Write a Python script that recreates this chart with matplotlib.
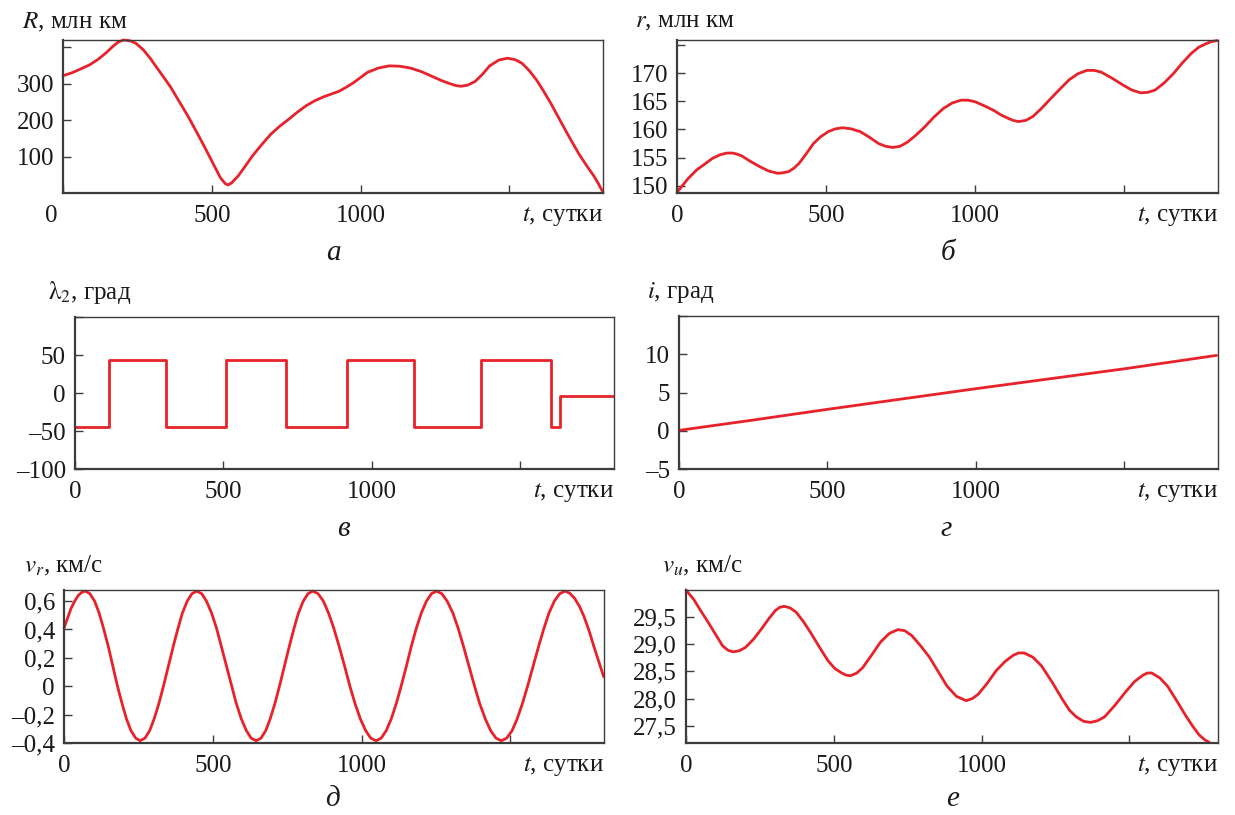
import matplotlib
matplotlib.use("Agg")
import matplotlib.pyplot as plt
from matplotlib.transforms import ScaledTranslation

plt.rcParams['font.family'] = ['Liberation Serif', 'DejaVu Serif']
plt.rcParams['mathtext.fontset'] = 'stix'

# ---------------- data ----------------
# a) R(t), mln km
R_t = [0, 30, 58, 90, 118, 145, 167, 185, 203, 225, 245, 270, 293, 325, 360,
       390, 420, 450, 480, 505, 529, 545, 555, 567, 589, 612, 637, 668, 698,
       728, 758, 788, 818, 848, 879, 903, 927, 951, 975, 1000, 1023, 1060,
       1096, 1132, 1168, 1205, 1241, 1271, 1301, 1320, 1337, 1360, 1385, 1410,
       1434, 1465, 1494, 1520, 1543, 1567, 1591, 1615, 1639, 1663, 1687, 1711,
       1735, 1760, 1784, 1800, 1815]
R_v = [322, 330, 340, 352, 367, 385, 402, 414, 420, 418, 411, 393, 370, 333,
       293, 252, 211, 166, 120, 80, 42, 26, 22, 28, 47, 73, 102, 133, 161,
       183, 202, 222, 240, 254, 265, 272, 279, 290, 302, 317, 331, 343,
       349, 348, 343, 333, 320, 309, 300, 295, 293, 296, 306, 326,
       349, 365, 370, 366, 356, 336, 311, 280, 247, 211, 175, 140,
       106, 75, 47, 25, 2]

# b) r(t), mln km
r_t = [0, 18, 36, 66, 97, 120, 145, 167, 187, 202, 217, 247, 277, 308, 338,
       356, 374, 392, 410, 434, 458, 482, 507, 531, 555, 585, 615, 646, 676,
       700, 724, 748, 772, 802, 832, 862, 893, 923, 953, 977, 1001, 1031,
       1062, 1086, 1110, 1128, 1146, 1170, 1194, 1224, 1254, 1285, 1315, 1345,
       1375, 1399, 1423, 1460, 1496, 1526, 1556, 1580, 1604, 1635, 1665, 1695,
       1725, 1750, 1773, 1792, 1812]
r_v = [148.8, 150.0, 151.2, 152.8, 154.0, 154.9, 155.5, 155.8, 155.8, 155.6,
       155.3, 154.3, 153.4, 152.6, 152.2, 152.3, 152.5, 153.1, 154.0, 155.7,
       157.5, 158.7, 159.6, 160.1, 160.3, 160.1, 159.6, 158.6, 157.5, 157.0,
       156.8, 157.0, 157.7, 159.0, 160.5, 162.2, 163.7, 164.7, 165.2, 165.2,
       164.9, 164.2, 163.4, 162.6, 162.0, 161.6, 161.4, 161.6, 162.3, 163.8,
       165.5, 167.2, 168.8, 169.9, 170.5, 170.5, 170.2, 169.1, 167.9, 167.0,
       166.5, 166.6, 167.0, 168.3, 169.9, 171.8, 173.5, 174.6, 175.2, 175.6,
       175.8]

# c) lambda_2(t), deg (piecewise constant)
lam_t = [0, 114, 306, 507, 710, 917, 1142, 1367, 1604, 1632, 1815]
lam_v = [-45, 44, -45, 44, -45, 44, -45, 44, -45, -3.5, -3.5]

# d) i(t), deg
inc_t = [0, 250, 500, 750, 1000, 1250, 1500, 1810]
inc_v = [0.05, 1.4, 2.8, 4.15, 5.5, 6.8, 8.1, 9.85]

# e) v_r(t), km/s
vr_t = [0, 12, 24, 36, 48, 60,
        72, 87, 103, 118, 133, 149, 164, 179, 195, 210, 225, 241,
        256, 272, 288, 303, 319, 335, 351, 367, 383, 398, 414, 430,
        446, 463, 479, 496, 513, 529, 546, 563, 579, 596, 613, 629,
        646, 662, 678, 693, 709, 725, 741, 757, 773, 788, 804, 820,
        836, 854, 872, 889, 907, 925, 943, 960, 978, 996, 1014, 1031,
        1049, 1066, 1083, 1100, 1117, 1134, 1151, 1167, 1184, 1201, 1218, 1235,
        1252, 1270, 1288, 1307, 1325, 1343, 1361, 1379, 1397, 1416, 1434, 1452,
        1470, 1488, 1506, 1523, 1541, 1559, 1577, 1595, 1613, 1630, 1648, 1666,
        1684, 1700, 1716, 1732, 1748, 1765, 1781, 1798, 1814]
vr_v = [0.41, 0.48, 0.55, 0.60, 0.64, 0.662,
        0.670, 0.652, 0.599, 0.516, 0.407, 0.279, 0.143, 0.007, -0.121, -0.230, -0.313, -0.366,
        -0.384, -0.366, -0.313, -0.230, -0.121, 0.007, 0.143, 0.279, 0.407, 0.516, 0.599, 0.652,
        0.670, 0.652, 0.599, 0.516, 0.407, 0.279, 0.143, 0.007, -0.121, -0.230, -0.313, -0.366,
        -0.384, -0.366, -0.313, -0.230, -0.121, 0.007, 0.143, 0.279, 0.407, 0.516, 0.599, 0.652,
        0.670, 0.652, 0.599, 0.516, 0.407, 0.279, 0.143, 0.007, -0.121, -0.230, -0.313, -0.366,
        -0.384, -0.366, -0.313, -0.230, -0.121, 0.007, 0.143, 0.279, 0.407, 0.516, 0.599, 0.652,
        0.670, 0.652, 0.599, 0.516, 0.407, 0.279, 0.143, 0.007, -0.121, -0.230, -0.313, -0.366,
        -0.384, -0.366, -0.313, -0.230, -0.121, 0.007, 0.143, 0.279, 0.407, 0.516, 0.599, 0.652,
        0.670, 0.655, 0.620, 0.565, 0.490, 0.390, 0.280, 0.170, 0.066]

# f) v_u(t), km/s
vu_t = [0, 27, 53, 71, 89, 107, 124, 142, 160, 180, 201, 228, 255, 280, 302,
        317, 332, 352, 373, 397, 421, 450, 480, 504, 527, 542, 557, 578, 598,
        628, 658, 688, 717, 740, 764, 794, 824, 854, 883, 915, 948, 969, 989,
        1019, 1049, 1079, 1108, 1126, 1144, 1174, 1203, 1239, 1274, 1298, 1321,
        1345, 1369, 1392, 1416, 1452, 1487, 1517, 1546, 1561, 1576, 1603, 1629,
        1659, 1689, 1713, 1736, 1755, 1771]
vu_v = [30.0, 29.82, 29.59, 29.44, 29.28, 29.12, 28.97, 28.89, 28.86, 28.88,
        28.94, 29.09, 29.28, 29.47, 29.62, 29.68, 29.70, 29.67, 29.59, 29.42,
        29.22, 28.96, 28.70, 28.55, 28.47, 28.43, 28.42, 28.47, 28.57, 28.80,
        29.04, 29.20, 29.27, 29.25, 29.16, 28.97, 28.76, 28.49, 28.23, 28.04,
        27.96, 28.00, 28.08, 28.28, 28.51, 28.68, 28.80, 28.84, 28.84, 28.76,
        28.60, 28.30, 27.98, 27.78, 27.66, 27.58, 27.56, 27.59, 27.66, 27.88,
        28.12, 28.31, 28.43, 28.47, 28.47, 28.38, 28.23, 27.97, 27.70, 27.50,
        27.33, 27.24, 27.19]

x_ticks = [0, 500, 1000, 1500]
x_labels = ['0', '500', '1000', '']
x_name = r'$t$, сутки'

R_ticks = [100, 200, 300, 400]
R_labels = ['100', '200', '300', '']
r_ticks = [150, 155, 160, 165, 170, 175]
r_labels = ['150', '155', '160', '165', '170', '']
lam_ticks = [-100, -50, 0, 50, 100]
lam_labels = ['–100', '–50', '0', '50', '']
inc_ticks = [-5, 0, 5, 10, 15]
inc_labels = ['–5', '0', '5', '10', '']
vr_ticks = [-0.4, -0.2, 0, 0.2, 0.4, 0.6]
vr_labels = ['–0,4', '–0,2', '0', '0,2', '0,4', '0,6']
vu_ticks = [27.5, 28.0, 28.5, 29.0, 29.5]
vu_labels = ['27,5', '28,0', '28,5', '29,0', '29,5']

y_names = [r'$R$, млн км', r'$r$, млн км', r'$\mathrm{\lambda}_2$, град',
           r'$i$, град', r'$v_r$, км/с', r'$v_u$, км/с']
captions = ['а', 'б', 'в', 'г', 'д', 'е']

# ---------------- figure ----------------
W, H = 1235, 815
fig = plt.figure(figsize=(W / 100, H / 100), dpi=100)
RED = '#e8222a'
SPINE = '#3c3c3c'
TXT = '#1a1a1a'
FS = 18


def ax_at(l, r, t, b):
    return fig.add_axes([l / W, 1 - b / H, (r - l) / W, (b - t) / H])


def style(ax, yt, yl, ylim, xmax=1815):
    ax.set_xlim(0, xmax)
    ax.set_ylim(*ylim)
    ax.set_xticks(x_ticks)
    ax.set_xticklabels(x_labels)
    ax.set_yticks(yt)
    ax.set_yticklabels(yl)
    ax.tick_params(direction='in', length=6, width=1, colors=SPINE,
                   labelcolor=TXT, labelsize=FS, top=False, right=False)
    ax.tick_params(axis='x', pad=8.5)
    ax.tick_params(axis='y', pad=6.5)
    for s in ['left', 'bottom']:
        ax.spines[s].set_linewidth(1.6)
        ax.spines[s].set_color(SPINE)
    for s in ['top', 'right']:
        ax.spines[s].set_linewidth(1.0)
        ax.spines[s].set_color(SPINE)
    ax.text(1.0, -0.155, x_name, transform=ax.transAxes, ha='right', va='center',
            fontsize=FS, color=TXT)


axes_px = [(63, 603, 40, 193), (677, 1218, 40, 193),
           (75, 614, 317, 469), (679, 1218, 316, 469),
           (64, 604, 590, 743), (686, 1218, 590, 743)]
name_pos = [(22, 22), (635, 22), (48, 293), (647, 293), (24, 566), (662, 566)]
cap_pos = [(333, 253), (948, 253), (343, 529), (946, 529), (333, 799), (953, 799)]

axs = [ax_at(*p) for p in axes_px]
kw = dict(color=RED, lw=2.0, solid_joinstyle='round', solid_capstyle='round')

axs[0].plot(R_t, R_v, clip_on=False, **kw)
style(axs[0], R_ticks, R_labels, (0, 420))
# shift the "0" label of panel a slightly to the left
lab0 = axs[0].get_xticklabels()[0]
lab0.set_transform(lab0.get_transform() + ScaledTranslation(-12 / 100, 0, fig.dpi_scale_trans))

axs[1].plot(r_t, r_v, clip_on=False, **kw)
style(axs[1], r_ticks, r_labels, (148.7, 175.9))

axs[2].step(lam_t, lam_v, where='post', **kw)
style(axs[2], lam_ticks, lam_labels, (-100, 100))

axs[3].plot(inc_t, inc_v, **kw)
style(axs[3], inc_ticks, inc_labels, (-5, 15))

axs[4].plot(vr_t, vr_v, clip_on=False, **kw)
style(axs[4], vr_ticks, vr_labels, (-0.4, 0.678))

axs[5].plot(vu_t, vu_v, clip_on=False, **kw)
style(axs[5], vu_ticks, vu_labels, (27.18, 30.0), xmax=1800)

for (x, y), s in zip(name_pos, y_names):
    fig.text(x / W, 1 - y / H, s, ha='left', va='center', fontsize=FS, color=TXT)
for (x, y), s in zip(cap_pos, captions):
    fig.text(x / W, 1 - y / H, s, ha='center', va='center', fontsize=FS + 3,
             style='italic', color=TXT)

fig.savefig('out.png', dpi=100, facecolor='white')
